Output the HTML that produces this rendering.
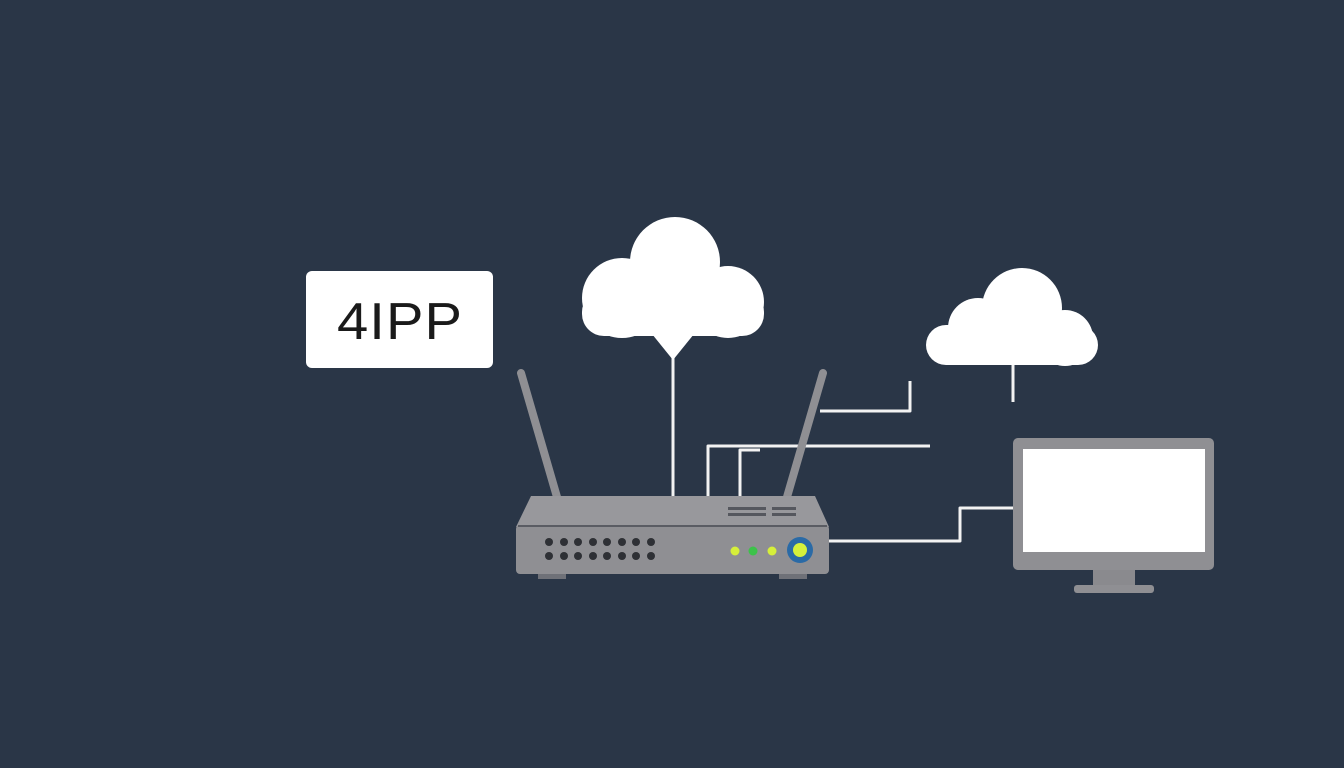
<!DOCTYPE html>
<html><head><style>html,body{margin:0;padding:0;background:#2a3647;}svg{display:block}</style></head>
<body>
<svg width="1344" height="768" viewBox="0 0 1344 768" xmlns="http://www.w3.org/2000/svg">
<rect width="1344" height="768" fill="#2a3647"/>
<!-- label -->
<rect x="306" y="271" width="187" height="97" rx="6" fill="#ffffff"/>
<text x="400" y="339" text-anchor="middle" font-family="Liberation Sans, sans-serif" font-size="52" fill="#1a1a1a" letter-spacing="1" textLength="126" lengthAdjust="spacingAndGlyphs">4IPP</text>
<!-- connector lines -->
<g fill="none" stroke="#f2f2f2" stroke-width="3" stroke-linejoin="round">
<line x1="673" y1="350" x2="673" y2="497"/>
<polyline points="708,497 708,446 930,446"/>
<polyline points="740,497 740,450 760,450"/>
<polyline points="820,411 910,411 910,381"/>
<polyline points="829,541 960,541 960,508 1014,508"/>
<line x1="1013" y1="362" x2="1013" y2="402"/>
</g>
<!-- cloud 1 -->
<g fill="#ffffff">
<circle cx="675" cy="262" r="45"/>
<circle cx="622" cy="298" r="40"/>
<circle cx="728" cy="302" r="36"/>
<rect x="582" y="290" width="182" height="46" rx="22"/>
<polygon points="652,334 694,334 673,360"/>
</g>
<!-- cloud 2 -->
<g fill="#ffffff">
<circle cx="1022" cy="308" r="40"/>
<circle cx="978" cy="328" r="30"/>
<circle cx="1065" cy="338" r="28"/>
<rect x="926" y="325" width="172" height="40" rx="20"/>
</g>
<!-- antennas -->
<g stroke="#8f8f93" stroke-width="8" stroke-linecap="round">
<line x1="521" y1="373" x2="557" y2="497"/>
<line x1="823" y1="373" x2="787" y2="497"/>
</g>
<!-- router -->
<rect x="538" y="570" width="28" height="9" fill="#6f7178"/>
<rect x="779" y="570" width="28" height="9" fill="#6f7178"/>
<polygon points="531,496 815,496 829,527 516,527" fill="#98989c"/>
<rect x="516" y="525" width="313" height="49" rx="4" fill="#8f8f93"/>
<line x1="518" y1="526" x2="827" y2="526" stroke="#5a5c63" stroke-width="2"/>
<g fill="#55575e">
<rect x="728" y="507" width="38" height="3"/><rect x="728" y="513" width="38" height="3"/>
<rect x="772" y="507" width="24" height="3"/><rect x="772" y="513" width="24" height="3"/>
</g>
<g fill="#2e3035">
<circle cx="549" cy="542" r="4"/><circle cx="564" cy="542" r="4"/><circle cx="578" cy="542" r="4"/><circle cx="593" cy="542" r="4"/><circle cx="607" cy="542" r="4"/><circle cx="622" cy="542" r="4"/><circle cx="636" cy="542" r="4"/><circle cx="651" cy="542" r="4"/>
<circle cx="549" cy="556" r="4"/><circle cx="564" cy="556" r="4"/><circle cx="578" cy="556" r="4"/><circle cx="593" cy="556" r="4"/><circle cx="607" cy="556" r="4"/><circle cx="622" cy="556" r="4"/><circle cx="636" cy="556" r="4"/><circle cx="651" cy="556" r="4"/>
</g>
<circle cx="735" cy="551" r="4.5" fill="#d6ef3a"/>
<circle cx="753" cy="551" r="4.5" fill="#3cc24a"/>
<circle cx="772" cy="551" r="4.5" fill="#d6ef3a"/>
<circle cx="800" cy="550" r="13" fill="#2a6aa6"/>
<circle cx="800" cy="550" r="7" fill="#d4f03c"/>
<!-- monitor -->
<rect x="1093" y="568" width="42" height="18" fill="#8a8a8e"/>
<rect x="1074" y="585" width="80" height="8" rx="3" fill="#8f8f93"/>
<rect x="1013" y="438" width="201" height="132" rx="5" fill="#8f8f93"/>
<rect x="1023" y="449" width="182" height="103" fill="#ffffff"/>
</svg>
</body></html>
